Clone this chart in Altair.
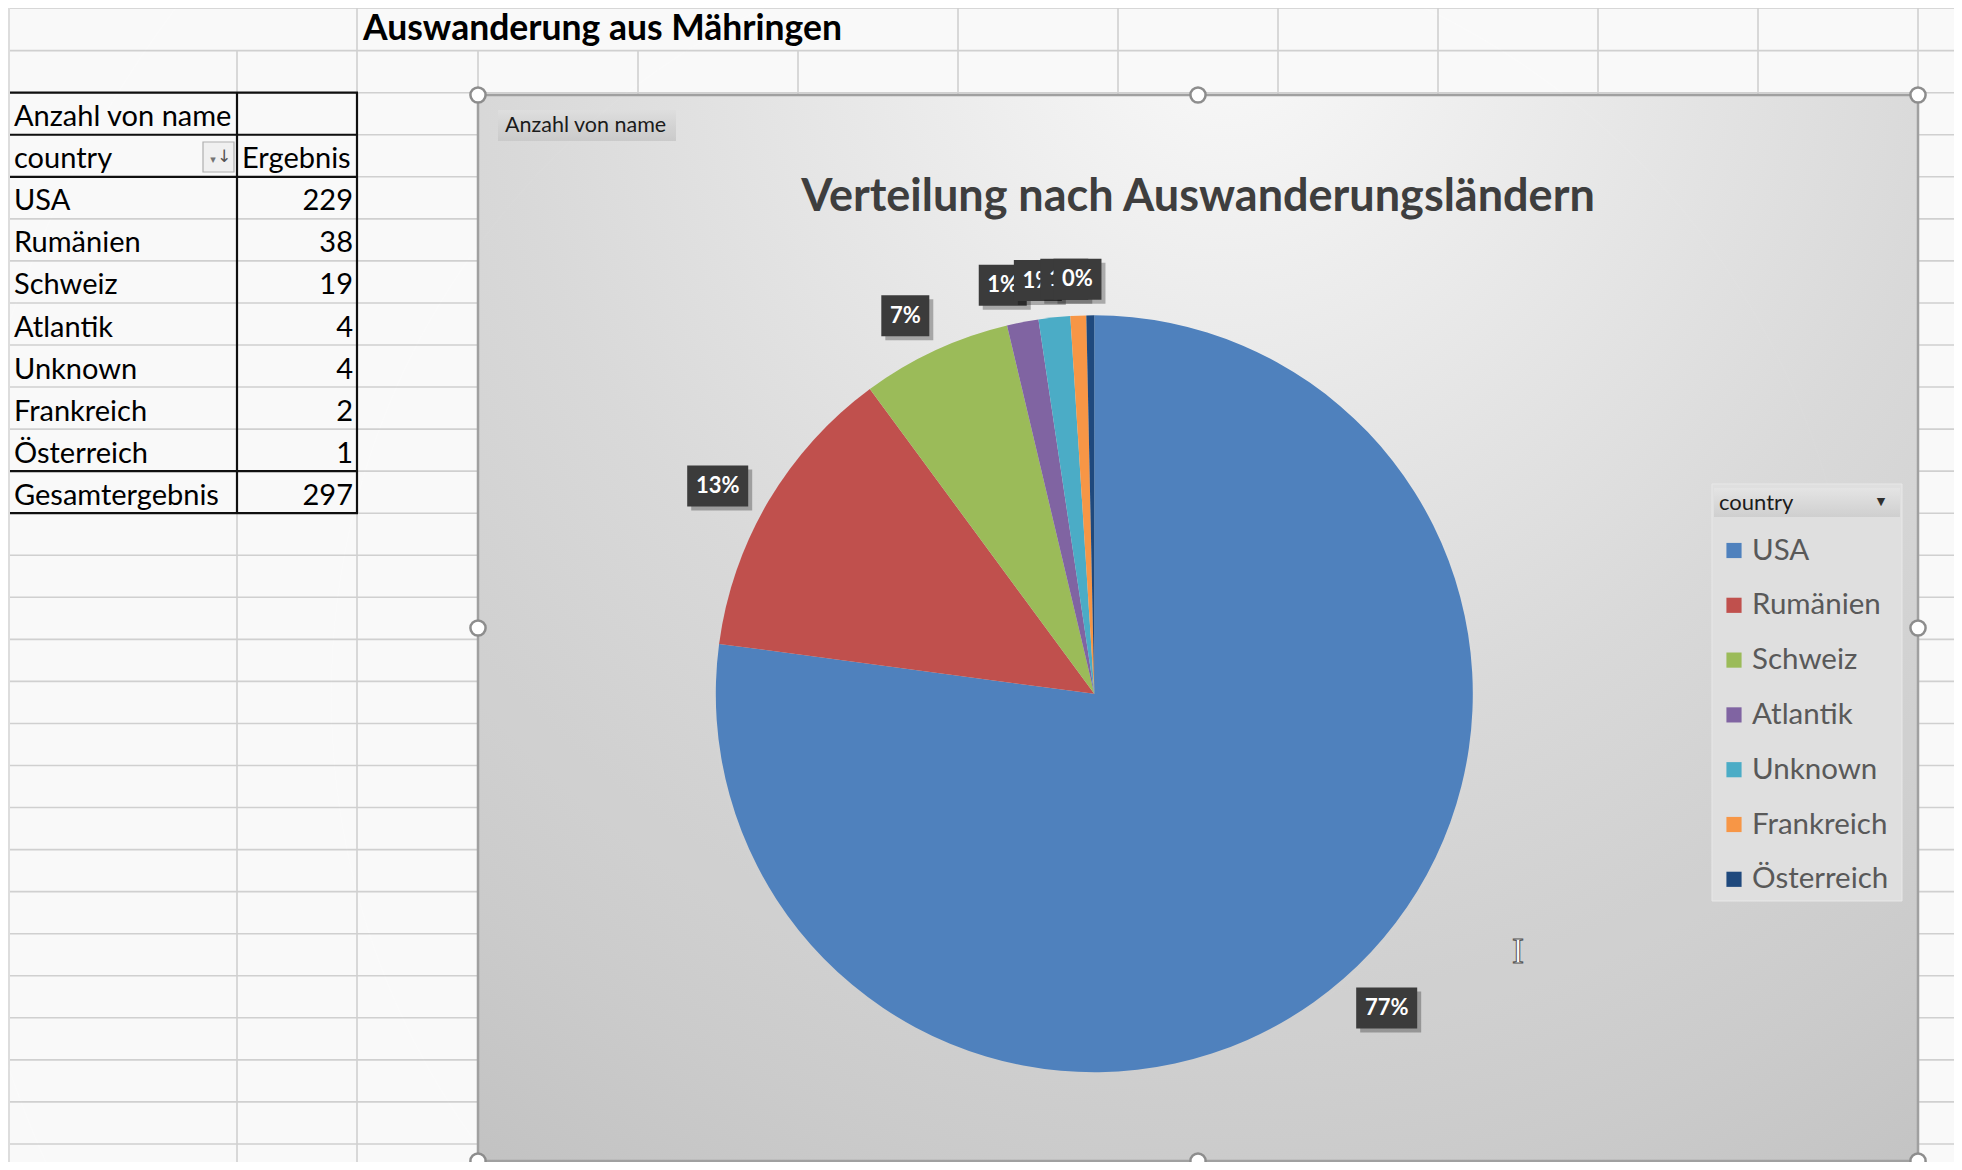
import altair as alt
import pandas as pd

# ---------------- data ----------------
countries = ["USA", "Rumänien", "Schweiz", "Atlantik", "Unknown", "Frankreich", "Österreich"]
counts = [229, 38, 19, 4, 4, 2, 1]
pct_labels = ["77%", "13%", "7%", "1%", "1%", "1%", "0%"]
colors = ["#4F81BD", "#C0504D", "#9BBB59", "#8064A2", "#4BACC6", "#F79646", "#1F497D"]
total_label = "Gesamtergebnis"
total_value = 297
sheet_title = "Auswanderung aus Mähringen"
chart_title = "Verteilung nach Auswanderungsländern"
field_button = "Anzahl von name"
value_header = "Anzahl von name"
row_header = "country"
col_header = "Ergebnis"
legend_title = "country"

# ---------------- layout ----------------
FONT = "Lato"
OFF = 8
W, H = 1946, 1154


def P(v):
    return v - OFF


def XQ(f):
    return alt.X(f"{f}:Q", scale=None, axis=None)


def YQ(f):
    return alt.Y(f"{f}:Q", scale=None, axis=None)


def seg_chart(rows, **mark):
    df = pd.DataFrame(rows, columns=["x", "y", "x2", "y2"])
    return alt.Chart(df).mark_rule(**mark).encode(
        x=XQ("x"), x2=alt.X2("x2:Q"), y=YQ("y"), y2=alt.Y2("y2:Q"))


def box_chart(x1, y1, x2, y2, **mark):
    df = pd.DataFrame({"x": [P(x1)], "x2": [P(x2)], "y": [P(y1)], "y2": [P(y2)]})
    return alt.Chart(df).mark_rect(**mark).encode(
        x=XQ("x"), x2=alt.X2("x2:Q"), y=YQ("y"), y2=alt.Y2("y2:Q"))


def text_chart(df, **mark):
    return alt.Chart(df).mark_text(**mark).encode(x=XQ("x"), y=YQ("y"), text="text:N")


layers = []

# left strip (row headers of the sheet)
layers.append(box_chart(8, 8, 10, 1170, fill="#e3e3e3"))

# sheet gridlines
ROW_TOP = 50.65
ROW_H = 42.05
hl = [(P(10), P(ROW_TOP + k * ROW_H), P(1962), P(ROW_TOP + k * ROW_H)) for k in range(27)]
layers.append(seg_chart(hl, color="#d6d6d6", strokeWidth=1.6))
COLS = [237, 357, 478, 638, 798, 958, 1118, 1278, 1438, 1598, 1758, 1918]
vl = []
for c in COLS:
    top = 8 if (c == 357 or c >= 958) else ROW_TOP
    vl.append((P(c), P(top), P(c), P(1170)))
layers.append(seg_chart(vl, color="#d6d6d6", strokeWidth=1.6))

# pivot table borders
T_TOP = 92.7
TX1, TXM, TX2 = 10, 237, 357
tb = [(P(TX1), P(T_TOP + r * ROW_H), P(TX2 + 1), P(T_TOP + r * ROW_H)) for r in (0, 1, 2, 9, 10)]
tb += [(P(x), P(T_TOP), P(x), P(T_TOP + 10 * ROW_H)) for x in (TXM, TX2)]
layers.append(seg_chart(tb, color="#111111", strokeWidth=2.2))

# pivot table text
colA = [value_header, row_header] + countries + [total_label]
rowsA = pd.DataFrame({
    "text": colA,
    "x": [P(14)] * len(colA),
    "y": [P(T_TOP + (r + 1) * ROW_H - 8.5) for r in range(len(colA))],
})
layers.append(text_chart(rowsA, align="left", baseline="alphabetic", font=FONT, fontSize=29, color="#000000"))
numsB = [str(v) for v in counts] + [str(total_value)]
rowsB = pd.DataFrame({
    "text": numsB,
    "x": [P(353)] * len(numsB),
    "y": [P(T_TOP + (r + 3) * ROW_H - 8.5) for r in range(len(numsB))],
})
layers.append(text_chart(rowsB, align="right", baseline="alphabetic", font=FONT, fontSize=29, color="#000000"))
layers.append(text_chart(pd.DataFrame({"text": [col_header], "x": [P(242)], "y": [P(T_TOP + 2 * ROW_H - 8.5)]}),
                         align="left", baseline="alphabetic", font=FONT, fontSize=29, color="#000000"))

# filter button in the "country" cell
layers.append(box_chart(203, 142, 234, 172, fill="#f6f6f6", stroke="#b4b4b4", strokeWidth=1.2))
layers.append(text_chart(pd.DataFrame({"text": ["↓"], "x": [P(224)], "y": [P(157)]}),
                         align="center", baseline="middle", font="DejaVu Sans", fontSize=17, color="#555555"))
layers.append(text_chart(pd.DataFrame({"text": ["▾"], "x": [P(213)], "y": [P(160)]}),
                         align="center", baseline="middle", font="DejaVu Sans", fontSize=11, color="#777777"))

# sheet title
layers.append(text_chart(pd.DataFrame({"text": [sheet_title], "x": [P(363)], "y": [P(40)]}),
                         align="left", baseline="alphabetic", font=FONT, fontSize=35.5, fontWeight="bold", color="#000000"))

# chart area
bg_grad = alt.RadialGradient(
    gradient="radial",
    stops=[alt.GradientStop(offset=0, color="#ffffff"),
           alt.GradientStop(offset=0.2, color="#f2f2f2"),
           alt.GradientStop(offset=0.5, color="#dfdfdf"),
           alt.GradientStop(offset=0.8, color="#d0d0d0"),
           alt.GradientStop(offset=1, color="#c4c4c4")],
    x1=0.52, y1=0.08, r1=0, x2=0.52, y2=0.08, r2=1.0)
layers.append(box_chart(478, 95, 1918, 1161, fill=bg_grad, stroke="#a4a4a4", strokeWidth=2.5))

btn_grad = alt.LinearGradient(
    gradient="linear",
    stops=[alt.GradientStop(offset=0, color="#e4e4e4"), alt.GradientStop(offset=1, color="#cfcfcf")],
    x1=0, y1=0, x2=0, y2=1)
layers.append(box_chart(498, 110, 676, 141, fill=btn_grad))
layers.append(text_chart(pd.DataFrame({"text": [field_button], "x": [P(505)], "y": [P(126)]}),
                         align="left", baseline="middle", font=FONT, fontSize=21.5, color="#1c1c1c"))

# chart title
layers.append(text_chart(pd.DataFrame({"text": [chart_title], "x": [P(1198)], "y": [P(211)]}),
                         align="center", baseline="alphabetic", font=FONT, fontSize=45, fontWeight="bold", color="#404040"))

# pie (soft shadow + slices)
CX, CY, R = P(1094.3), P(693.8), 378.5
ring = pd.DataFrame({"r": [R + 2 * k for k in range(1, 9)]})
layers.append(alt.Chart(ring).mark_arc(theta=0, theta2=6.2832, color="#000000", opacity=0.022).encode(
    radius=alt.Radius("r:Q", scale=None), x=alt.value(CX), y=alt.value(CY + 2)))

pie_df = pd.DataFrame({"country": countries, "count": counts, "idx": list(range(len(countries))), "label": pct_labels})
color_scale = alt.Scale(domain=countries, range=colors)
layers.append(alt.Chart(pie_df).mark_arc(outerRadius=R).encode(
    theta=alt.Theta("count:Q", stack=True),
    order=alt.Order("idx:Q"),
    color=alt.Color("country:N", scale=color_scale, legend=None),
    x=alt.value(CX), y=alt.value(CY)))

# data labels (percent boxes outside end)
GAP = 15
lab_base = alt.Chart(pie_df).transform_window(
    cum="sum(count)", sort=[alt.SortField("idx", order="ascending")], frame=[None, 0]
).transform_joinaggregate(total="sum(count)").transform_calculate(
    mid="(datum.cum - datum.count / 2) / datum.total * 2 * PI - 0.03",
    hw="(13 * length(datum.label) + 22) / 2",
    hh="20.5",
).transform_calculate(
    rr=f"{R + GAP} + abs(sin(datum.mid)) * datum.hw + abs(cos(datum.mid)) * datum.hh"
).transform_calculate(
    lx=f"{CX} + datum.rr * sin(datum.mid)",
    ly=f"{CY} - datum.rr * cos(datum.mid)",
).transform_calculate(
    bx1="datum.lx - datum.hw", bx2="datum.lx + datum.hw",
    by1="datum.ly - datum.hh", by2="datum.ly + datum.hh",
    sx1="datum.lx - datum.hw + 4", sx2="datum.lx + datum.hw + 4",
    sy1="datum.ly - datum.hh + 4", sy2="datum.ly + datum.hh + 4",
)
for i in range(len(countries)):
    b = lab_base.transform_filter(f"datum.idx == {i}")
    layers.append(b.mark_rect(color="#000000", opacity=0.28).encode(
        x=XQ("sx1"), x2=alt.X2("sx2:Q"), y=YQ("sy1"), y2=alt.Y2("sy2:Q")))
    layers.append(b.mark_rect(color="#3b3b3b").encode(
        x=XQ("bx1"), x2=alt.X2("bx2:Q"), y=YQ("by1"), y2=alt.Y2("by2:Q")))
    layers.append(b.mark_text(font=FONT, fontSize=22, fontWeight="bold", color="#ffffff",
                              align="center", baseline="middle").encode(
        x=XQ("lx"), y=YQ("ly"), text="label:N"))

# legend (drawn as in the Excel pivot chart)
layers.append(box_chart(1712, 484, 1902, 901, fill="#dfdfdf", stroke="#e8e8e8", strokeWidth=1))
layers.append(box_chart(1714, 488, 1900, 517, fill=btn_grad))
layers.append(text_chart(pd.DataFrame({"text": [legend_title], "x": [P(1719)], "y": [P(503)]}),
                         align="left", baseline="middle", font=FONT, fontSize=22, color="#1c1c1c"))
layers.append(text_chart(pd.DataFrame({"text": ["▼"], "x": [P(1881)], "y": [P(502)]}),
                         align="center", baseline="middle", font="DejaVu Sans", fontSize=11, color="#303030"))
leg_df = pd.DataFrame({"country": countries, "idx": list(range(len(countries)))})
leg_base = alt.Chart(leg_df).transform_calculate(ly=f"{P(550.5)} + datum.idx * 54.8", sx=f"{P(1734)}", tx=f"{P(1752)}")
layers.append(leg_base.mark_square(size=230, opacity=1).encode(
    x=XQ("sx"), y=YQ("ly"), color=alt.Color("country:N", scale=color_scale, legend=None)))
layers.append(leg_base.mark_text(font=FONT, fontSize=29.5, color="#595959", align="left", baseline="middle").encode(
    x=XQ("tx"), y=YQ("ly"), text="country:N"))

# selection handles of the chart object
hx = [478, 1198, 1918, 478, 1918, 478, 1198, 1918]
hy = [95, 95, 95, 628, 628, 1161, 1161, 1161]
hdf = pd.DataFrame({"x": [P(v) for v in hx], "y": [P(v) for v in hy]})
layers.append(alt.Chart(hdf).mark_point(shape="circle", filled=True, fill="#ffffff", stroke="#8d8d8d",
                                        strokeWidth=2.5, size=230, opacity=1).encode(x=XQ("x"), y=YQ("y")))

# mouse cursor (I-beam)
layers.append(text_chart(pd.DataFrame({"text": ["I"], "x": [P(1518)], "y": [P(952)]}),
                         align="center", baseline="middle", font="Liberation Serif", fontSize=36,
                         fill="#ffffff", stroke="#555555", strokeWidth=1))

chart = alt.layer(*layers).properties(
    width=W, height=H, padding=0, autosize=alt.AutoSizeParams(type="none")
).configure_view(stroke=None).configure(background="#ffffff")

chart.save("out.html", embed_options={"renderer": "svg", "actions": False})
